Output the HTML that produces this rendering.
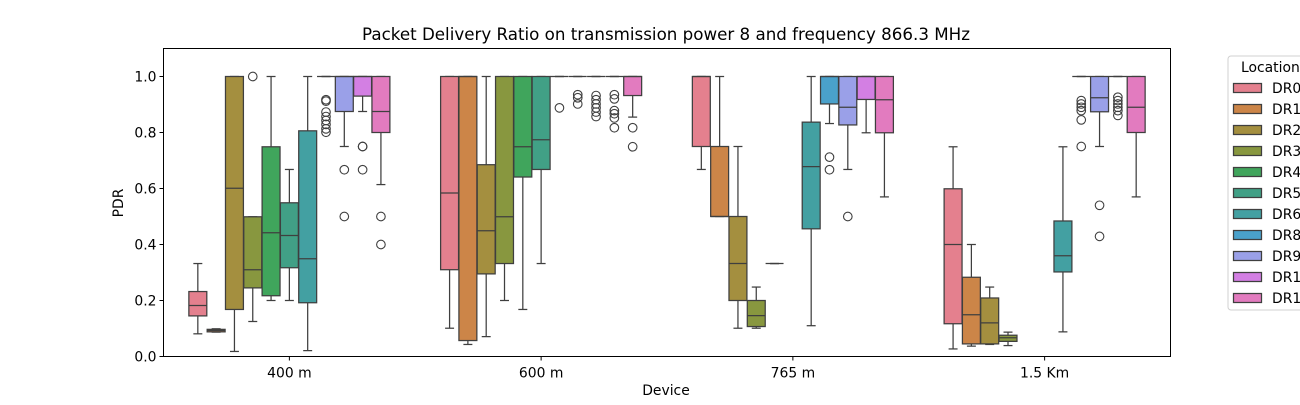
<!DOCTYPE html>
<html><head><meta charset="utf-8"><style>
body{margin:0;background:#fff}
svg text{font-family:"DejaVu Sans","Liberation Sans",sans-serif;fill:#000}
</style></head><body>
<svg id="chart" width="1300" height="400" viewBox="0 0 1300 400" xmlns="http://www.w3.org/2000/svg">
<text x="666" y="40" font-size="16.7" text-anchor="middle">Packet Delivery Ratio on transmission power 8 and frequency 866.3 MHz</text>
<g id="plot"></g>
<rect x="163.5" y="48.5" width="1007" height="308" fill="none" stroke="#000" stroke-width="1"/>
<text x="666" y="395" font-size="13.9" text-anchor="middle">Device</text>
<text x="123" y="203" font-size="13.9" text-anchor="middle" transform="rotate(-90 123 203)">PDR</text>
<g id="legend"></g>
</svg>
<script>
const categories = ["400 m", "600 m", "765 m", "1.5 Km"];
const locations = ["DR0","DR1","DR2","DR3","DR4","DR5","DR6","DR8","DR9","DR10","DR11"];
const yTicks = [0.0,0.2,0.4,0.6,0.8,1.0];
// stats per location: [low whisker, q1, median, q3, high whisker] per category
const dr0Stats = [[0.081,0.145,0.182,0.232,0.332],[0.101,0.31,0.584,1,1],[0.668,0.75,1,1,1],[0.027,0.117,0.4,0.599,0.749]];
const dr1Stats = [[0.087,0.088,0.093,0.097,0.099],[0.043,0.057,1,1,1],[0.5,0.5,0.5,0.75,1],[0.037,0.045,0.149,0.283,0.4]];
const dr2Stats = [[0.018,0.168,0.601,1,1],[0.071,0.295,0.449,0.685,1],[0.101,0.2,0.332,0.5,0.75],[0.043,0.045,0.12,0.209,0.248]];
const dr3Stats = [[0.125,0.245,0.31,0.499,0.499],[0.2,0.332,0.499,1,1],[0.101,0.107,0.146,0.2,0.248],[0.039,0.054,0.067,0.076,0.087]];
const dr4Stats = [[0.2,0.217,0.442,0.749,1],[0.168,0.641,0.749,1,1],[0.332,0.332,0.332,0.332,0.332],null];
const dr5Stats = [[0.2,0.317,0.432,0.549,0.668],[0.332,0.668,0.774,1,1],null,null];
const dr6Stats = [[0.021,0.192,0.349,0.806,1],[1,1,1,1,1],[0.110,0.456,0.678,0.837,1],[0.088,0.302,0.36,0.484,0.749]];
const dr8Stats = [[1,1,1,1,1],[1,1,1,1,1],[0.832,0.902,1,1,1],[1,1,1,1,1]];
const dr9Stats = [[0.75,0.875,1,1,1],[1,1,1,1,1],[0.668,0.827,0.89,1,1],[0.75,0.874,0.924,1,1]];
const dr10Stats = [[0.875,0.93,1,1,1],[1,1,1,1,1],[0.799,0.918,1,1,1],[1,1,1,1,1]];
const dr11Stats = [[0.614,0.8,0.875,1,1],[0.855,0.932,1,1,1],[0.57,0.799,0.917,1,1],[0.57,0.8,0.89,1,1]];
// outliers per location per category
const dr3Out = [[1.0],[],[],[]];
const dr6Out = [[],[0.888],[],[]];
const dr8Out = [[0.917,0.912,0.873,0.857,0.843,0.829,0.813,0.801],[0.935,0.924,0.902],[0.712,0.667],[0.914,0.902,0.890,0.878,0.845,0.75]];
const dr9Out = [[0.667,0.5],[0.932,0.917,0.902,0.888,0.873,0.857],[0.5],[0.54,0.429]];
const dr10Out = [[0.75,0.75,0.667],[0.935,0.920,0.878,0.867,0.852,0.817],[],[0.926,0.914,0.902,0.890,0.878,0.861]];
const dr11Out = [[0.5,0.4],[0.817,0.749],[],[]];

const allStats = [dr0Stats,dr1Stats,dr2Stats,dr3Stats,dr4Stats,dr5Stats,dr6Stats,dr8Stats,dr9Stats,dr10Stats,dr11Stats];
const allOut = [[],[],[],dr3Out,[],[],dr6Out,dr8Out,dr9Out,dr10Out,dr11Out];
const colors = ["#e4808e","#cc8548","#a48f3f","#88973f","#40a55c","#41a086","#43a0a2","#4aa1cb","#9aa0e8","#d37fe3","#e27bbf"];

const NS="http://www.w3.org/2000/svg";
const L=163.5,R=1170.5,T=48.5,B=356.5;
const unit=(R-L)/categories.length;
const slot=unit*0.8/locations.length;
function xCat(i){return L+unit*(i+0.5);}
function xHue(i,h){return xCat(i)+(h-(locations.length-1)/2)*slot;}
function yS(v){return B-(v/1.1)*(B-T);}
function mk(tag,attrs,parent){const e=document.createElementNS(NS,tag);for(const k in attrs)e.setAttribute(k,attrs[k]);parent.appendChild(e);return e;}
const svg=document.getElementById('chart');
const plot=document.getElementById('plot');
const lc="#3f3f3f";

yTicks.forEach(v=>{
  const y=yS(v);
  const t=mk('line',{x1:L-4,x2:L,y1:y,y2:y,stroke:'#000'},svg);
  
  
  const tx=mk('text',{x:L-7,y:y+5,'font-size':13.9,'text-anchor':'end'},svg);
  tx.textContent=v.toFixed(1);
  
  
});
categories.forEach((c,i)=>{
  const x=xCat(i);
  const t=mk('line',{x1:x,x2:x,y1:B,y2:B+4,stroke:'#000'},svg);
  
  
  const tx=mk('text',{x:x,y:B+21,'font-size':13.9,'text-anchor':'middle'},svg);
  tx.textContent=c;
  
  
});

allStats.forEach((ser,h)=>{
  ser.forEach((s,i)=>{
    if(!s)return;
    const g=mk('g',{},plot);
    
    
    const cx=xHue(i,h), w=slot*0.98, cap=w/2;
    mk('line',{x1:cx,x2:cx,y1:yS(s[0]),y2:yS(s[1]),stroke:lc,'stroke-width':1.25},g);
    mk('line',{x1:cx,x2:cx,y1:yS(s[3]),y2:yS(s[4]),stroke:lc,'stroke-width':1.25},g);
    mk('line',{x1:cx-cap/2,x2:cx+cap/2,y1:yS(s[0]),y2:yS(s[0]),stroke:lc,'stroke-width':1.25},g);
    mk('line',{x1:cx-cap/2,x2:cx+cap/2,y1:yS(s[4]),y2:yS(s[4]),stroke:lc,'stroke-width':1.25},g);
    mk('rect',{x:cx-w/2,y:yS(s[3]),width:w,height:Math.max(0,yS(s[1])-yS(s[3])),fill:colors[h],stroke:lc,'stroke-width':1.25},g);
    mk('line',{x1:cx-w/2,x2:cx+w/2,y1:yS(s[2]),y2:yS(s[2]),stroke:lc,'stroke-width':1.25},g);
    const outs=allOut[h][i]||[];
    outs.forEach(v=>{
      const c=mk('circle',{cx:cx,cy:yS(v),r:4.3,fill:'none',stroke:lc,'stroke-width':1.1},g);
      
      
    });
  });
});

const lg=document.getElementById('legend');
mk('rect',{x:1228,y:56,width:80,height:254,rx:3,fill:'#fff',stroke:'#d0d0d0'},lg);
const lt=mk('text',{x:1241,y:72,'font-size':13.9},lg);
lt.textContent='Location';


locations.forEach((n,h)=>{
  const y=88+h*21;
  const e=mk('g',{},lg);
  
  
  mk('rect',{x:1233.5,y:y-4.5,width:28,height:9,fill:colors[h],stroke:lc,'stroke-width':1.25},e);
  const t=mk('text',{x:1272,y:y+5,'font-size':13.9},e);
  t.textContent=n;
});
</script>
</body></html>
